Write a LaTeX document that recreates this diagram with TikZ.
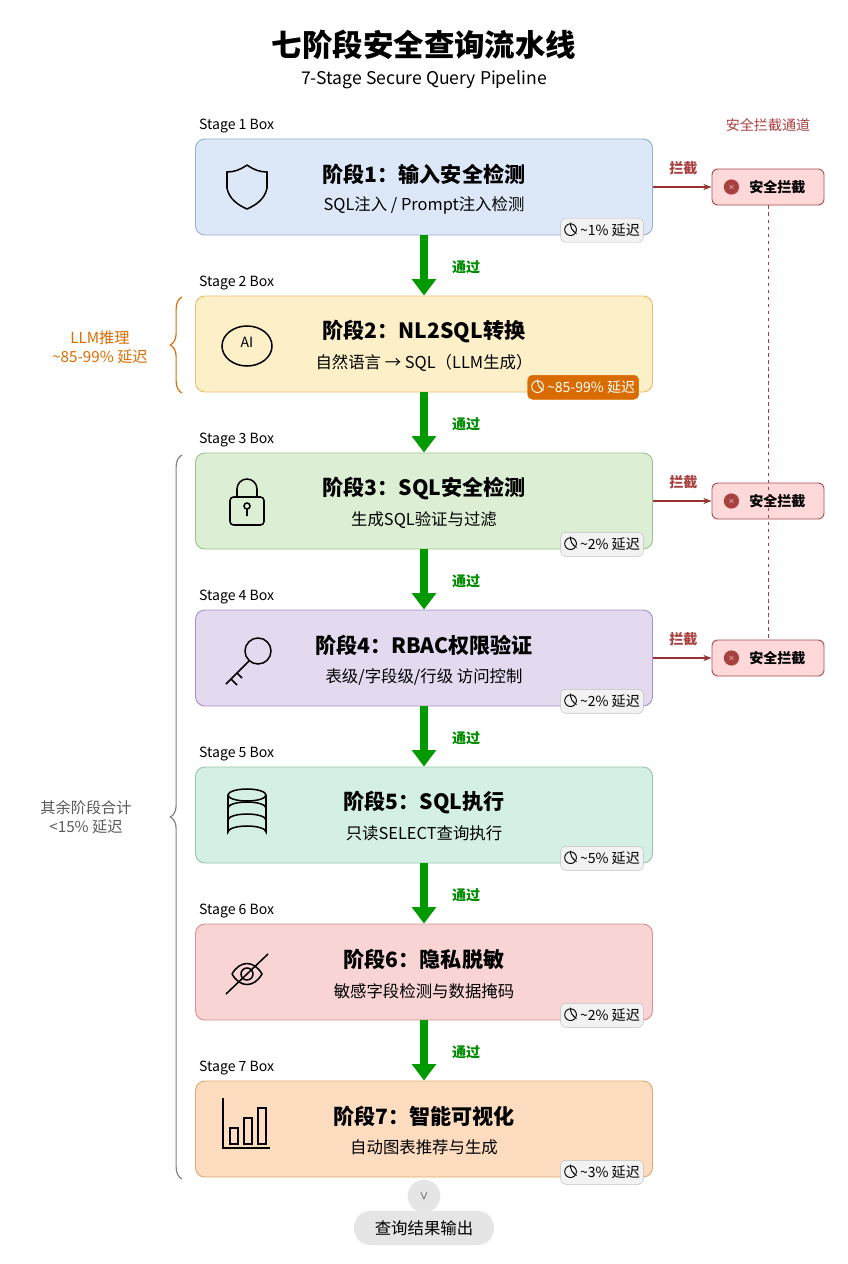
\documentclass[tikz,border=0pt]{standalone}
\usepackage{fontspec}
\setmainfont{Noto Sans CJK SC}
\usetikzlibrary{positioning,arrows.meta,decorations.pathreplacing}
\begin{document}
\begin{tikzpicture}[x=0.03cm,y=-0.03cm,
    stagebox/.style={rounded corners=8pt,line width=0.8pt,minimum width=457*0.03cm,minimum height=96*0.03cm},
    badge/.style={rounded corners=4pt,fill=gray!10,draw=gray!50,font=\fontsize{12}{13}\selectfont,inner sep=3pt,minimum height=24*0.03cm},
    block/.style={rounded corners=5pt,fill=red!15,draw=red!50!black!70,line width=0.8pt,minimum width=112*0.03cm,minimum height=36*0.03cm,font=\fontsize{12}{14}\selectfont\bfseries},
    pass/.style={-{Triangle[width=20pt,length=14pt]},line width=6pt,green!60!black},
    stop/.style={-{Stealth[length=7pt]},line width=1pt,red!50!black!80}]
    %colores
    \definecolor{b1}{HTML}{DCE8F8}\definecolor{d1}{HTML}{9AAFC8}
    \definecolor{b2}{HTML}{FDF0C8}\definecolor{d2}{HTML}{E8C070}
    \definecolor{b3}{HTML}{DCEFD4}\definecolor{d3}{HTML}{9CC48A}
    \definecolor{b4}{HTML}{E4DAF0}\definecolor{d4}{HTML}{A890C8}
    \definecolor{b5}{HTML}{D4F0E4}\definecolor{d5}{HTML}{90C8A8}
    \definecolor{b6}{HTML}{F8D4D4}\definecolor{d6}{HTML}{D89090}
    \definecolor{b7}{HTML}{FDDCC0}\definecolor{d7}{HTML}{E0A870}
    \colorlet{rred}{red!55!black!75}
    \colorlet{oor}{orange!85!black}
    \useasboundingbox (0,0) rectangle (848,1264);

    % Titulo
    \node (title) at (424,45) {\fontsize{26}{28}\selectfont\bfseries 七阶段安全查询流水线};
    \node (subtitle) at (424,80) {\fontsize{15}{17}\selectfont 7-Stage Secure Query Pipeline};

    % Etapas
    \foreach \i/\head/\sub in {1/阶段1：输入安全检测/{SQL注入 / Prompt注入检测},
        2/阶段2：NL2SQL转换/{自然语言 → SQL（LLM生成）},
        3/阶段3：SQL安全检测/{生成SQL验证与过滤},
        4/阶段4：RBAC权限验证/{表级/字段级/行级 访问控制},
        5/阶段5：SQL执行/{只读SELECT查询执行},
        6/阶段6：隐私脱敏/{敏感字段检测与数据掩码},
        7/阶段7：智能可视化/{自动图表推荐与生成}}{
        \node[stagebox,fill=b\i,draw=d\i] (s\i) at (424,187+157*\i-157) {};
        \node[anchor=south west,font=\fontsize{12}{14}\selectfont] (l\i) at ([yshift=1pt]s\i.north west) {Stage \i\ Box};
        \node[font=\fontsize{18}{20}\selectfont\bfseries] (h\i) at ([yshift=11pt]s\i.center) {\head};
        \node[font=\fontsize{14}{16}\selectfont] (t\i) at ([yshift=-16pt]s\i.center) {\sub};
    }
    \foreach \i/\lat in {1/1,3/2,4/2,5/5,6/2,7/3}
        \node[badge,anchor=south east] (c\i) at ([xshift=-8pt,yshift=-6pt]s\i.south east) {\tikz\draw[line width=0.8pt](0,0) circle (5pt) (0,3pt)--(0,0)--(2.5pt,-1.5pt);\ \textasciitilde\lat\% 延迟};
    \node[badge,anchor=south east,fill=oor,draw=oor,text=white] (c2) at ([xshift=-12pt,yshift=-6pt]s2.south east) {\tikz\draw[white,line width=0.8pt](0,0) circle (5pt) (0,3pt)--(0,0)--(2.5pt,-1.5pt);\ \textasciitilde85-99\% 延迟};

    % Flechas de paso
    \foreach \i [count=\j from 2] in {1,...,6}{
        \draw[pass] (s\i.south) -- (s\j.north);
        \node[green!55!black,font=\fontsize{12}{14}\selectfont\bfseries] (p\i) at ([xshift=36pt,yshift=-27pt]s\i.south) {通过};
    }

    % Canal de bloqueo
    \node[rred,font=\fontsize{12}{14}\selectfont] (chan) at (768,125) {安全拦截通道};
    \foreach \i in {1,3,4}{
        \node[block] (x\i) at (768,187+157*\i-157) {\hspace{16pt}安全拦截};
        \node[circle,fill=rred,inner sep=0pt,minimum size=13pt,text=white,font=\scriptsize\bfseries] (xi\i) at ([xshift=17pt]x\i.west) {$\times$};
        \draw[stop] (s\i.east) -- (x\i.west);
        \node[rred,font=\fontsize{12}{14}\selectfont\bfseries] (k\i) at ([xshift=26pt,yshift=16pt]s\i.east) {拦截};
    }
    \draw[rred,dashed,line width=0.8pt] (x1.south) -- (x4.north);

    % Llaves izquierdas
    \draw[oor,line width=1pt,decorate,decoration={brace,amplitude=10pt}] (182,393) -- (182,297);
    \node[oor,align=center,font=\fontsize{13}{16}\selectfont] (llm) at (100,347) {LLM推理\\\textasciitilde85-99\% 延迟};
    \draw[gray,line width=1pt,decorate,decoration={brace,amplitude=10pt}] (182,1179) -- (182,455);
    \node[gray!70!black,align=center,font=\fontsize{13}{16}\selectfont] (rest) at (86,817) {其余阶段合计\\<15\% 延迟};

    % Iconos
    \begin{scope}[line width=1.3pt]
        \draw (247,165) .. controls (240,170) and (234,172) .. (227,172) -- (227,188) .. controls (229,199) and (238,205) .. (247,209) .. controls (256,205) and (265,199) .. (267,188) -- (267,172) .. controls (260,172) and (254,170) .. (247,165);
        \draw (247,346) ellipse (25 and 20);
        \node[font=\fontsize{12}{12}\selectfont] at (247,342) {AI};
        \draw[rounded corners=3pt] (230,497) rectangle (264,525);
        \draw (237,497) -- (237,489) arc (180:360:10) -- (257,497);
        \draw (247,506) circle (3) (247,509) -- (247,516);
        \draw (258,651) circle (13);
        \draw (249,661) -- (226,684) (231,679) -- (237,685) (237,673) -- (242,678);
        \draw (247,795) ellipse (19 and 6) (228,795) -- (228,832) arc (180:360:19 and 6) -- (266,795);
        \draw (228,808) arc (180:360:19 and 6) (228,820) arc (180:360:19 and 6);
        \draw (232,974) .. controls (240,960) and (254,960) .. (262,974) .. controls (254,988) and (240,988) .. (232,974);
        \draw (247,974) circle (6) (226,994) -- (268,954);
        \draw (223,1098) -- (223,1148) -- (270,1148);
        \draw (230,1128) rectangle (238,1144) (244,1118) rectangle (252,1144) (258,1108) rectangle (266,1144);
    \end{scope}

    % Salida
    \node[circle,fill=gray!20,minimum size=28pt] (down) at (424,1196) {\fontsize{10}{10}\selectfont$\vee$};
    \node[rounded corners=14pt,fill=gray!20,minimum width=140*0.03cm,minimum height=34*0.03cm,font=\fontsize{14}{16}\selectfont] (out) at (424,1228) {查询结果输出};
\end{tikzpicture}
\end{document}
